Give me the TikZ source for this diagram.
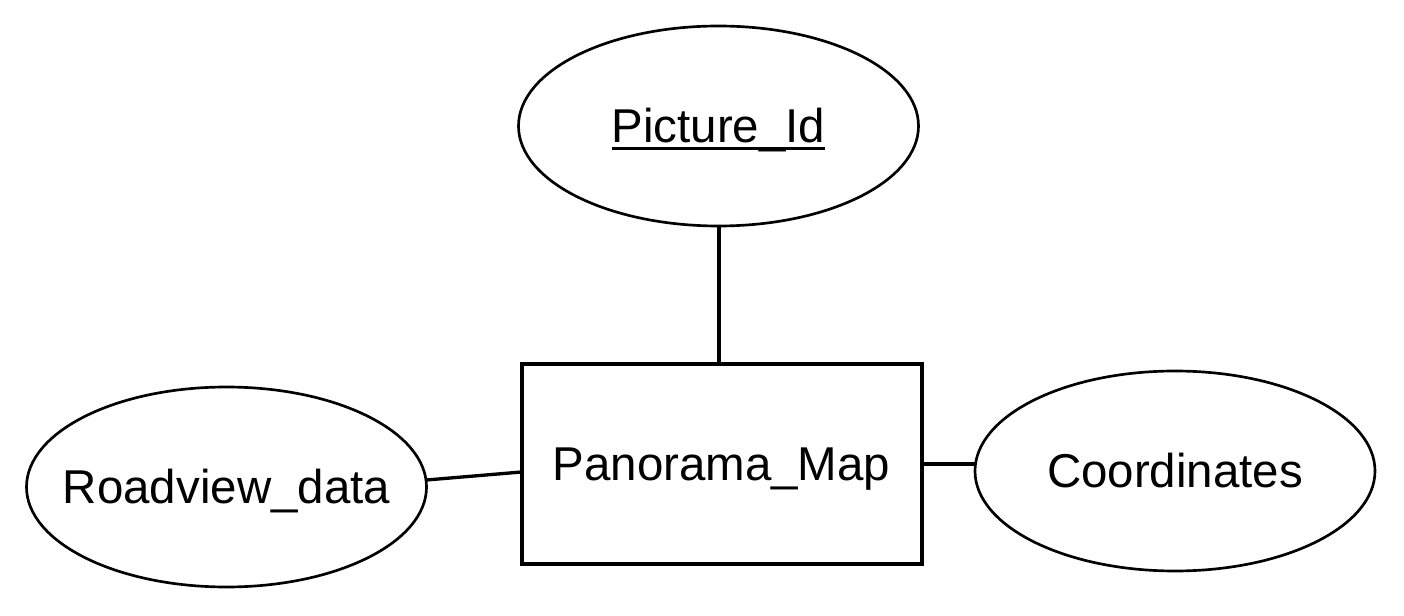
\documentclass[tikz,border=0pt]{standalone}
\usepackage{fontspec}
\setmainfont{Liberation Sans}
\usetikzlibrary{shapes.geometric}
\tikzset{
  lbl/.style={font=\fontsize{35.6}{40}\selectfont, text height=25.5pt, text depth=0pt, inner sep=0pt, outer sep=0pt},
  attr/.style={lbl, ellipse, draw, line width=2pt, minimum width=300pt, minimum height=150pt},
  entity/.style={lbl, rectangle, draw, line width=3pt, minimum width=300pt, minimum height=150pt},
  link/.style={draw, line width=2.5pt},
}
\newcommand{\keyul}[1]{\setbox0\hbox{#1}\rlap{\rule[-5.3pt]{\wd0}{2.6pt}}\box0}
\newcommand{\ctr}[1]{\makebox[0pt]{#1}}
\begin{document}
\begin{tikzpicture}[x=0.75pt,y=-0.75pt]
\useasboundingbox (0,0) rectangle (1404,616);
\node[attr] (pi) at (718.5,126) {\ctr{\keyul{Picture\_Id}}};
\node[entity] (pm) at (721.5,464) {Panorama\_Map};
\node[attr] (rd) at (226.5,487) {\ctr{Roadview\_data}};
\node[attr] (co) at (1175,471) {\ctr{Coordinates}};
\draw[link, line width=3pt] (pi.south) -- (pi.south |- pm.north);
\draw[link] (rd.2.9) -- ([yshift=-6pt]pm.west);
\draw[link] (co.178.9) -- (co.178.9 -| pm.east);
\end{tikzpicture}
\end{document}
